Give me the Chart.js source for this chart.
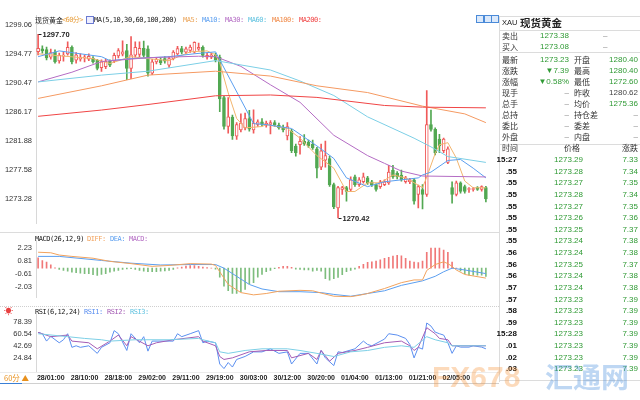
<!DOCTYPE html>
<html>
<head>
<meta charset="utf-8">
<title>现货黄金 60分</title>
<script src="https://cdn.jsdelivr.net/npm/chart.js@4.4.1/dist/chart.umd.min.js"></script>
<style>
  body { margin: 0; width: 640px; height: 400px; background: #fff; position: relative; overflow: hidden; }
  .pane { position: absolute; left: 0; width: 490px; }
  .t { position: absolute; white-space: nowrap; line-height: 1; transform: translateY(-50%); }
  .hl { position: absolute; height: 0; border-top: 1px solid #dcdcdc; }
  .vl { position: absolute; width: 0; border-left: 1px solid #dcdcdc; }
  .wm { position: absolute; white-space: nowrap; line-height: 1; font-weight: bold; pointer-events: none; }
</style>
</head>
<body>
<div class="pane" style="top:0;height:232px"><canvas id="main"></canvas></div>
<div class="pane" style="top:232px;height:74px"><canvas id="macd"></canvas></div>
<div class="pane" style="top:306px;height:78px"><canvas id="rsi"></canvas></div>
<script>
// 60 min candles, left to right
var opens  = [1295.14,1295.53,1295.43,1294.30,1295.05,1293.75,1294.45,1294.80,1295.77,1293.85,1294.00,1294.20,1294.00,1294.19,1293.85,1292.75,1292.90,1293.70,1293.70,1294.50,1294.75,1295.30,1292.65,1294.60,1294.70,1295.62,1295.53,1291.93,
              1293.60,1293.85,1294.10,1293.10,1294.10,1294.80,1295.60,1295.05,1295.30,1295.05,1295.50,1295.77,1294.30,1294.30,1294.57,1294.30,1288.30,1284.00,1285.40,1282.56,1283.50,1283.80,1285.20,1283.50,1284.30,1284.70,
              1284.20,1284.30,1284.60,1284.20,1283.90,1282.60,1283.30,1281.10,1281.30,1281.80,1281.70,1281.41,1280.69,1277.95,1279.00,1279.25,1275.36,1271.90,1274.64,1274.92,1274.64,1276.51,1275.36,1275.79,1276.37,1275.79,
              1275.36,1275.07,1275.36,1275.64,1277.52,1277.09,1276.80,1275.79,1275.79,1276.08,1273.92,1274.64,1273.92,1284.29,1283.57,1282.13,1280.40,1278.67,1274.92,1273.92,1275.64,1275.07,1274.64,1274.64,1274.92,1274.64,1274.92];
var highs  = [1297.70,1296.00,1295.80,1295.50,1295.40,1294.90,1295.10,1296.58,1296.00,1295.00,1294.80,1294.60,1294.80,1294.40,1294.00,1293.90,1294.00,1293.90,1294.90,1295.60,1296.73,1296.20,1297.36,1296.60,1296.60,1296.70,1296.00,1294.00,
              1294.30,1294.20,1294.40,1294.40,1295.30,1295.90,1295.90,1295.80,1296.10,1296.60,1296.40,1296.00,1294.90,1294.90,1294.90,1294.60,1288.50,1288.30,1285.70,1284.60,1285.90,1286.00,1286.40,1286.50,1285.00,1285.20,
              1284.80,1284.90,1284.90,1284.50,1284.20,1284.60,1283.60,1281.40,1282.50,1282.80,1282.00,1282.00,1280.90,1281.41,1281.84,1279.60,1275.60,1275.10,1275.10,1275.10,1276.51,1276.80,1276.40,1277.09,1276.60,1276.00,
              1275.50,1276.00,1276.10,1278.24,1278.24,1277.30,1277.52,1276.60,1276.30,1276.30,1275.30,1275.36,1289.33,1286.45,1283.80,1282.85,1282.30,1281.00,1275.79,1275.90,1275.80,1275.30,1274.92,1274.92,1275.07,1275.20,1275.10];
var lows   = [1294.66,1294.90,1293.90,1294.00,1293.40,1293.40,1293.70,1294.60,1293.30,1293.40,1293.70,1293.60,1293.80,1293.40,1292.40,1292.20,1292.60,1292.90,1293.50,1294.20,1294.50,1290.96,1291.10,1294.30,1294.40,1294.30,1291.50,1291.70,
              1293.30,1293.20,1293.40,1292.80,1293.90,1294.60,1294.80,1294.80,1295.00,1294.90,1295.30,1294.30,1294.00,1294.10,1293.60,1286.20,1283.60,1283.00,1282.10,1282.10,1283.20,1283.50,1283.30,1283.00,1284.00,1284.10,
              1283.90,1282.90,1284.00,1283.60,1283.20,1282.00,1280.10,1279.60,1279.90,1281.20,1280.90,1280.60,1276.37,1277.60,1277.95,1275.10,1271.80,1270.42,1273.92,1272.91,1274.40,1275.10,1275.10,1275.60,1275.40,1275.10,
              1274.40,1274.80,1275.20,1275.40,1276.30,1276.20,1275.90,1275.60,1275.50,1272.48,1271.90,1271.76,1273.60,1283.30,1279.80,1280.11,1280.10,1278.50,1272.60,1273.70,1274.10,1274.10,1274.21,1274.40,1274.50,1274.40,1272.80];
var closes = [1295.63,1295.24,1294.19,1295.00,1293.61,1294.57,1294.60,1295.77,1293.61,1294.66,1294.33,1294.30,1294.42,1293.61,1292.65,1293.60,1293.70,1293.10,1294.57,1295.30,1295.10,1292.65,1294.66,1295.77,1295.62,1294.57,1291.93,1293.60,
              1294.00,1293.50,1293.70,1294.10,1295.05,1295.60,1295.05,1295.53,1295.80,1296.50,1295.77,1294.57,1294.57,1294.66,1293.85,1288.10,1284.00,1285.44,1282.60,1284.30,1284.50,1285.20,1283.60,1284.50,1284.70,1284.30,
              1284.50,1284.60,1284.20,1283.80,1283.50,1284.00,1280.40,1280.10,1281.80,1281.40,1281.12,1280.83,1277.81,1280.40,1279.70,1275.36,1272.04,1274.92,1274.92,1274.35,1276.08,1275.36,1276.08,1276.51,1275.64,1275.36,
              1274.64,1275.79,1275.79,1277.23,1276.51,1276.51,1276.08,1276.37,1276.08,1272.91,1275.07,1273.92,1284.29,1283.57,1280.11,1281.12,1282.13,1280.69,1273.92,1275.64,1274.35,1274.35,1274.78,1274.78,1274.64,1275.07,1273.23];

// moving averages: [candle index, value]
var ma5   = [[0,1294.81],[5,1294.52],[13,1294.09],[17,1293.37],[22,1294.38],[26,1294.09],[31,1293.80],[36,1295.10],[40,1295.24],[42,1294.66],[43,1293.5],[45,1289.0],[47,1285.2],[49,1283.8],[53,1284.0],[54,1284.29],[59,1283.71],[62,1282.27],[66,1279.68],[70,1277.81],[73,1274.35],[75,1274.35],[78,1275.64],[81,1275.64],[84,1276.80],[87,1276.37],[91,1274.92],[92,1276.5],[94,1280.0],[95,1281.3],[97,1281.6],[99,1279.3],[101,1275.9],[103,1274.9],[106,1274.9]];
var ma10  = [[0,1294.38],[5,1295.24],[15,1294.38],[17,1293.80],[22,1294.09],[31,1294.38],[37,1294.81],[42,1295.10],[51,1284.43],[54,1284.29],[60,1283.71],[66,1281.12],[70,1279.25],[73,1276.37],[78,1275.07],[82,1275.79],[90,1276.37],[91,1276.80],[93,1277.23],[97,1278.96],[100,1279.11],[103,1277.81],[106,1276.37]];
var ma30  = [[0,1290.63],[8,1292.07],[15,1293.66],[26,1294.23],[38,1294.45],[42,1294.38],[48,1292.94],[55,1290.2],[62,1287.6],[70,1282.7],[78,1279.68],[82,1278.53],[86,1277.38],[91,1276.65],[106,1276.51]];
var ma60  = [[0,1290.63],[15,1291.64],[26,1292.22],[42,1293.80],[55,1292.40],[62,1290.77],[70,1288.61],[78,1285.44],[89,1282.27],[93,1280.98],[97,1279.54],[106,1278.67]];
var ma100 = [[0,1288.18],[15,1290.05],[26,1291.64],[42,1292.22],[55,1291.50],[66,1290.05],[78,1289.05],[91,1287.03],[101,1285.88],[106,1284.58]];
var ma200 = [[0,1285.52],[15,1286.45],[26,1287.27],[42,1288.57],[55,1288.69],[66,1288.33],[82,1287.13],[91,1286.88],[106,1286.78]];

// MACD(26,12,9)
var macdHist = [1.14,0.83,0.68,0.37,0.05,-0.15,-0.25,-0.34,-0.45,-0.5,-0.56,-0.6,-0.62,-0.71,-0.8,-0.7,-0.6,-0.45,-0.34,-0.25,-0.15,-0.08,-0.05,-0.15,-0.25,-0.34,-0.4,-0.4,
                -0.38,-0.34,-0.3,-0.25,-0.15,0.05,0.12,0.22,0.28,0.28,0.2,0.12,0.06,0.02,-0.1,-1.0,-2.0,-2.5,-2.8,-2.8,-2.6,-2.35,-1.75,-1.6,-1.0,-0.7,
                -0.4,-0.25,-0.05,0.1,0.2,0.2,0.1,-0.1,-0.15,-0.2,-0.2,-0.34,-0.25,-0.34,-1.17,-1.33,-1.17,-1.02,-0.71,-0.4,-0.25,-0.1,0.2,0.43,0.64,0.7,
                0.77,0.92,1.08,1.2,1.33,1.42,1.36,1.08,0.77,0.68,0.62,0.77,1.76,2.22,2.22,2.22,2.0,1.76,0.68,0.0,-0.3,-0.6,-0.77,-0.77,-0.77,-0.77,-0.9];
var diff = [[0,1.76],[3,1.7],[5,1.45],[8,1.3],[13,1.1],[17,0.75],[22,0.5],[27,0.2],[31,0.3],[36,0.5],[41,0.45],[42,0.3],[43,-0.4],[45,-1.8],[48,-2.7],[51,-2.95],[54,-2.8],[57,-2.55],[62,-2.45],[65,-2.5],[67,-2.75],[70,-3.1],[74,-3.15],[76,-3.0],[78,-2.8],[82,-2.25],[86,-1.6],[89,-1.3],[91,-1.3],[92,-0.25],[94,0.4],[96,0.7],[97,0.5],[98,0.2],[99,-0.2],[101,-0.7],[106,-1.1]];
var dea  = [[0,1.3],[5,1.3],[15,0.85],[22,0.55],[29,0.35],[36,0.4],[42,0.4],[44,0.0],[47,-0.9],[50,-1.8],[53,-2.3],[57,-2.6],[62,-2.6],[67,-2.7],[70,-2.9],[74,-3.1],[78,-2.8],[82,-2.5],[86,-1.9],[91,-1.4],[94,-0.9],[96,-0.4],[98,0.0],[101,-0.2],[106,-0.6]];

// RSI(6,12,24)
var rsi1 = [[0,63],[1,61],[2,50],[3,57],[5,47.5],[6,52],[7,61],[8,40.7],[9,43],[10,40.7],[12,43],[14,31.7],[15,40.7],[17,47.5],[18,65.6],[19,61],[21,36],[22,61],[24,47.5],[25,56.6],[26,35],[27,50],[31,50],[32,50],[33,61],[34,56.6],[36,61],[38,65.6],[39,47.5],[40,50],[42,47.5],[43,15.8],[44,9],[45,18],[46,11.3],[47,22.6],[49,27.1],[51,33.9],[53,33.9],[55,38.5],[57,31.7],[59,33.9],[60,15.8],[62,31.7],[64,31.7],[66,15.8],[67,36],[68,24.9],[70,13.5],[71,34],[72,33],[75,38.5],[77,50],[78,45],[79,43],[82,53],[83,61],[85,59],[87,54],[88,45],[89,24.9],[90,40.7],[91,38],[92,77],[93,72.4],[94,63.4],[95,61],[96,59],[97,47.5],[98,31.7],[99,43],[100,41],[102,41],[103,43],[105,41],[106,38.5]];
var rsi2 = [[0,63],[3,56.6],[7,59],[8,50],[12,47.5],[14,38.5],[17,50],[19,59],[21,43],[22,56.6],[26,43],[28,47.5],[32,52],[38,56.6],[39,50],[42,43],[43,27],[44,22.6],[46,25],[50,34],[54,36],[59,36],[60,25],[64,31.7],[66,22.6],[67,36],[69,20],[71,31.7],[75,36],[78,40.7],[82,47.5],[86,50],[88,43],[89,36],[90,40.7],[92,70],[94,61],[95,54],[97,52],[98,43],[106,43]];
var rsi3 = [[0,61],[7,56.6],[11,54],[15,52],[17,50],[23,52],[31,52],[38,54],[39,52],[42,47.5],[43,34],[45,31.7],[49,36],[53,38.5],[59,38.5],[62,36],[66,31.7],[70,27],[74,34],[78,36],[82,40.7],[86,43],[89,40.7],[92,56.6],[94,52],[97,47.5],[98,43],[106,43]];

// axes
var priceTicks = [1299.06,1294.77,1290.47,1286.17,1281.88,1277.58,1273.28];
var macdTicks  = [2.23,0.81,-0.61,-2.03];
var rsiTicks   = [78.39,60.54,42.69,24.84];
var timeIdx    = [3,11,19,27,35,43,51,59,67,75,83,91,99];
var timeLabels = ['28/01:00','28/10:00','28/18:00','29/02:00','29/11:00','29/19:00','30/03:00','30/12:00','30/20:00','01/04:00','01/13:00','01/21:00','02/05:00'];

// quote box on the right
var statNames1  = ['最新','涨跌','涨幅','现手','总手','总持','委比','外盘'];
var statValues1 = ['1273.23','▼7.39','▼0.58%','–','–','–','–','–'];
var statNames2  = ['开盘','最高','最低','昨收','均价','持仓差','委差','内盘'];
var statValues2 = ['1280.40','1280.40','1272.60','1280.62','1275.36','–','–','–'];
var tickTimes   = ['15:27','.55','.55','.55','.55','.55','.55','.55','.56','.56','.56','.57','.57','.58','.59','15:28','.01','.02','.03'];
var tickPrices  = [1273.29,1273.28,1273.27,1273.28,1273.27,1273.26,1273.25,1273.24,1273.24,1273.25,1273.24,1273.24,1273.23,1273.23,1273.23,1273.23,1273.23,1273.23,1273.23];
var tickChanges = [7.33,7.34,7.35,7.34,7.35,7.36,7.37,7.38,7.38,7.37,7.38,7.38,7.39,7.39,7.39,7.39,7.39,7.39,7.39];

var N = closes.length;
var red = '#f05a5a', green = '#52a852', qGreen = '#2f9a34';
function isUp(i) { return closes[i] >= opens[i]; }
function pts(k) { return k.map(function (p) { return { x: p[0], y: p[1] }; }); }
function line(data, color) {
  return { type: 'line', data: pts(data), borderColor: color, borderWidth: 1, pointRadius: 0, tension: 0, fill: false, order: 1 };
}
function xAxis(show) {
  var ax = { type: 'linear', min: -0.5, max: N - 0.5, offset: false, display: show, grid: { display: false, drawTicks: false } };
  if (show) {
    ax.border = { display: false };
    ax.afterFit = function (s) { s.height = 13; };
    ax.afterBuildTicks = function (s) { s.ticks = timeIdx.map(function (v) { return { value: v }; }); };
    ax.ticks = { autoSkip: false, maxRotation: 0, padding: 3, color: '#222',
      font: { family: 'Liberation Sans', size: 7, weight: 'bold' },
      callback: function (v) { return timeLabels[timeIdx.indexOf(v)]; } };
  }
  return ax;
}
function yAxis(min, max, list) {
  return {
    position: 'left', min: min, max: max,
    afterFit: function (s) { s.width = 36; },
    afterBuildTicks: function (s) { s.ticks = list.map(function (v) { return { value: v }; }); },
    grid: { display: false, drawTicks: false },
    border: { display: true, color: '#d8d8d8' },
    ticks: { padding: 4, color: '#333', font: { family: 'Liberation Sans', size: 7.5 },
      callback: function (v) { return v.toFixed(2); } }
  };
}
var base = {
  animation: false, responsive: true, maintainAspectRatio: false, events: [],
  plugins: { legend: { display: false }, tooltip: { enabled: false } }
};
function opts(pad, min, max, list, showX) {
  return Object.assign({}, base, {
    layout: { padding: pad },
    scales: { x: xAxis(showX), y: yAxis(min, max, list) }
  });
}

// marks for highest high and lowest low
var hiLoMarks = {
  id: 'hiLoMarks',
  afterDatasetsDraw: function (chart) {
    var ctx = chart.ctx, x = chart.scales.x, y = chart.scales.y;
    var hi = Math.max.apply(null, highs), lo = Math.min.apply(null, lows);
    ctx.save();
    ctx.font = 'bold 7.5px "Liberation Sans"';
    ctx.fillStyle = '#222';
    ctx.strokeStyle = '#222';
    ctx.lineWidth = 1;
    ctx.textBaseline = 'middle';
    [[highs.indexOf(hi), hi], [lows.indexOf(lo), lo]].forEach(function (m) {
      var px = Math.round(x.getPixelForValue(m[0])) + 0.5, py = Math.round(y.getPixelForValue(m[1])) + 0.5;
      ctx.beginPath(); ctx.moveTo(px, py); ctx.lineTo(px + 3, py); ctx.stroke();
      ctx.fillText(m[1].toFixed(2), px + 4, py);
    });
    ctx.restore();
  }
};

var idx = closes.map(function (c, i) { return i; });

new Chart(document.getElementById('main'), {
  type: 'bar',
  data: { datasets: [
    { data: idx.map(function (i) { return { x: i, y: [lows[i], highs[i]] }; }), barThickness: 1, grouped: false, order: 3,
      backgroundColor: function (c) { return isUp(c.dataIndex) ? red : green; } },
    { data: idx.map(function (i) { return { x: i, y: [opens[i], closes[i]] }; }), barThickness: 3, grouped: false, order: 2,
      minBarLength: 1, borderWidth: 1, borderSkipped: false,
      backgroundColor: function (c) { return isUp(c.dataIndex) ? '#fff' : green; },
      borderColor: function (c) { return isUp(c.dataIndex) ? red : green; } },
    line(ma200, '#f04545'),
    line(ma100, '#f59a62'),
    line(ma60, '#7ccfe6'),
    line(ma30, '#b46cc4'),
    line(ma10, '#5b9ff0'),
    line(ma5, '#f2b56e')
  ] },
  options: opts({ top: 15, bottom: 2, right: 2, left: 0 }, 1269.593, 1300.573, priceTicks, false),
  plugins: [hiLoMarks]
});

new Chart(document.getElementById('macd'), {
  type: 'bar',
  data: { datasets: [
    { data: idx.map(function (i) { return { x: i, y: macdHist[i] }; }), barThickness: 1, grouped: false, order: 2,
      backgroundColor: function (c) { return macdHist[c.dataIndex] >= 0 ? '#f07878' : '#7dbd7d'; } },
    line(diff, '#f2a35e'),
    line(dea, '#5b9ff0')
  ] },
  options: opts({ top: 4, bottom: 2, right: 2, left: 0 }, -3.241, 3.056, macdTicks, false)
});

new Chart(document.getElementById('rsi'), {
  type: 'line',
  data: { datasets: [
    line(rsi3, '#7ccfe6'),
    line(rsi2, '#a45cb4'),
    line(rsi1, '#5b8ff0')
  ] },
  options: opts({ top: 3, bottom: 0, right: 2, left: 0 }, 5.39, 89.67, rsiTicks, true)
});

// text and frame
function put(txt, x, y, o) {
  o = o || {};
  var d = document.createElement('div');
  d.className = 't';
  d.textContent = txt;
  d.style.top = y + 'px';
  d.style.fontSize = (o.size || 8) + 'px';
  d.style.fontFamily = o.font || '"Liberation Sans", "Noto Sans CJK SC", sans-serif';
  d.style.color = o.color || '#333';
  if (o.bold) d.style.fontWeight = 'bold';
  if (o.ls) d.style.letterSpacing = o.ls + 'px';
  if (o.align === 'right') { d.style.right = (640 - x) + 'px'; }
  else if (o.align === 'center') { d.style.left = x + 'px'; d.style.transform = 'translate(-50%,-50%)'; }
  else { d.style.left = x + 'px'; }
  document.body.appendChild(d);
}
function hl(x, y, w, style) {
  var d = document.createElement('div');
  d.className = 'hl';
  d.style.left = x + 'px'; d.style.top = y + 'px'; d.style.width = w + 'px';
  if (style) d.style.borderTop = style;
  document.body.appendChild(d);
}
function vl(x, y, h) {
  var d = document.createElement('div');
  d.className = 'vl';
  d.style.left = x + 'px'; d.style.top = y + 'px'; d.style.height = h + 'px';
  document.body.appendChild(d);
}

var mono = '"DejaVu Sans Mono", "Noto Sans CJK SC", monospace';
var cjk = '"Noto Sans CJK SC", sans-serif';
put('现货黄金', 35, 20, { font: cjk, size: 7, color: '#222' });
put('<60分>', 62, 20, { font: mono, size: 7, ls: -0.6, color: '#e8a040' });
put('MA(5,10,30,60,100,200)', 94, 20, { font: mono, size: 7, ls: -0.45, color: '#222' });
put('MA5:', 183, 20, { font: mono, size: 7, ls: -0.45, color: '#eba55a' });
put('MA10:', 202, 20, { font: mono, size: 7, ls: -0.45, color: '#5b9ff0' });
put('MA30:', 225, 20, { font: mono, size: 7, ls: -0.45, color: '#b46cc4' });
put('MA60:', 248, 20, { font: mono, size: 7, ls: -0.45, color: '#62c3e0' });
put('MA100:', 272, 20, { font: mono, size: 7, ls: -0.45, color: '#f08a48' });
put('MA200:', 299, 20, { font: mono, size: 7, ls: -0.45, color: '#f04545' });
var ic = document.createElement('div');
ic.style.cssText = 'position:absolute;left:86px;top:16px;width:6px;height:6px;border:1px solid #6a7ad0;background:#eef';
document.body.appendChild(ic);

put('MACD(26,12,9)', 35, 238.5, { font: mono, size: 7, ls: -0.45, color: '#222' });
put('DIFF:', 87, 238.5, { font: mono, size: 7, ls: -0.45, color: '#f2a35e' });
put('DEA:', 110, 238.5, { font: mono, size: 7, ls: -0.45, color: '#5b9ff0' });
put('MACD:', 129, 238.5, { font: mono, size: 7, ls: -0.45, color: '#b46cc4' });
put('RSI(6,12,24)', 35, 311.5, { font: mono, size: 7, ls: -0.45, color: '#222' });
put('RSI1:', 84, 311.5, { font: mono, size: 7, ls: -0.45, color: '#5b8ff0' });
put('RSI2:', 107, 311.5, { font: mono, size: 7, ls: -0.45, color: '#a45cb4' });
put('RSI3:', 130, 311.5, { font: mono, size: 7, ls: -0.45, color: '#62c3e0' });
put('☀', 4, 311, { size: 9, color: '#e84040' });
put('60分 ▲', 4, 378, { font: cjk, size: 7.5, color: '#e8901c' });

// toolbar icons
[476, 484, 491].forEach(function (x) {
  var b = document.createElement('div');
  b.style.cssText = 'position:absolute;top:15px;width:6px;height:6px;border:1px solid #4a8ad8;background:#dbe9fb;left:' + x + 'px';
  document.body.appendChild(b);
});

hl(0, 232, 499);
hl(0, 306, 499, '1px dotted #cfcfcf');
hl(0, 372, 499, '1px solid #ececec');
hl(0, 383, 499, '1px solid #d0d0d0');
hl(0, 383, 22, '1px solid #3a7fd5');
vl(499, 16, 366);
hl(499, 16, 141);
hl(499, 30, 141);
hl(499, 52, 141);
hl(499, 144, 141);
hl(499, 380, 141);

// quote box
put('XAU', 502, 23, { size: 7.5, color: '#222' });
put('现货黄金', 520, 23, { font: cjk, size: 10.5, bold: true, color: '#222' });
put('卖出', 502, 36, { font: cjk, size: 8 });
put('1273.38', 569, 36, { align: 'right', color: qGreen });
put('–', 603, 36, { color: '#888' });
put('买入', 502, 47, { font: cjk, size: 8 });
put('1273.08', 569, 47, { align: 'right', color: qGreen });
put('–', 603, 47, { color: '#888' });
statNames1.forEach(function (n, k) {
  var y = 59.5 + 11.05 * k;
  put(n, 502, y, { font: cjk, size: 8 });
  put(statValues1[k], 569, y, { align: 'right', color: statValues1[k] === '–' ? '#888' : qGreen });
  put(statNames2[k], 574, y, { font: cjk, size: 8 });
  var v = statValues2[k];
  put(v, 638, y, { align: 'right', color: v === '–' ? '#888' : (statNames2[k] === '昨收' ? '#444' : qGreen) });
});
put('时间', 502, 148, { font: cjk, size: 8 });
put('价格', 572, 148, { font: cjk, size: 8, align: 'center' });
put('涨跌', 638, 148, { font: cjk, size: 8, align: 'right' });
tickTimes.forEach(function (t, k) {
  var y = 160 + 11.63 * k;
  put(t, 517, y, { align: 'right', color: '#111', bold: true });
  put(tickPrices[k].toFixed(2), 583, y, { align: 'right', color: qGreen });
  put(tickChanges[k].toFixed(2), 638, y, { align: 'right', color: qGreen });
});

// site mark in the lower right corner
var wm1 = document.createElement('div');
wm1.className = 'wm';
wm1.textContent = 'FX678';
wm1.style.cssText += 'left:432px;top:362px;font-size:30px;font-family:"Liberation Sans";color:rgba(245,150,60,0.35);';
document.body.appendChild(wm1);
var wm2 = document.createElement('div');
wm2.className = 'wm';
wm2.textContent = '汇通网';
wm2.style.cssText += 'left:545px;top:362px;font-size:28px;font-family:"Noto Sans CJK SC";color:rgba(70,140,220,0.35);';
document.body.appendChild(wm2);
</script>
</body>
</html>
